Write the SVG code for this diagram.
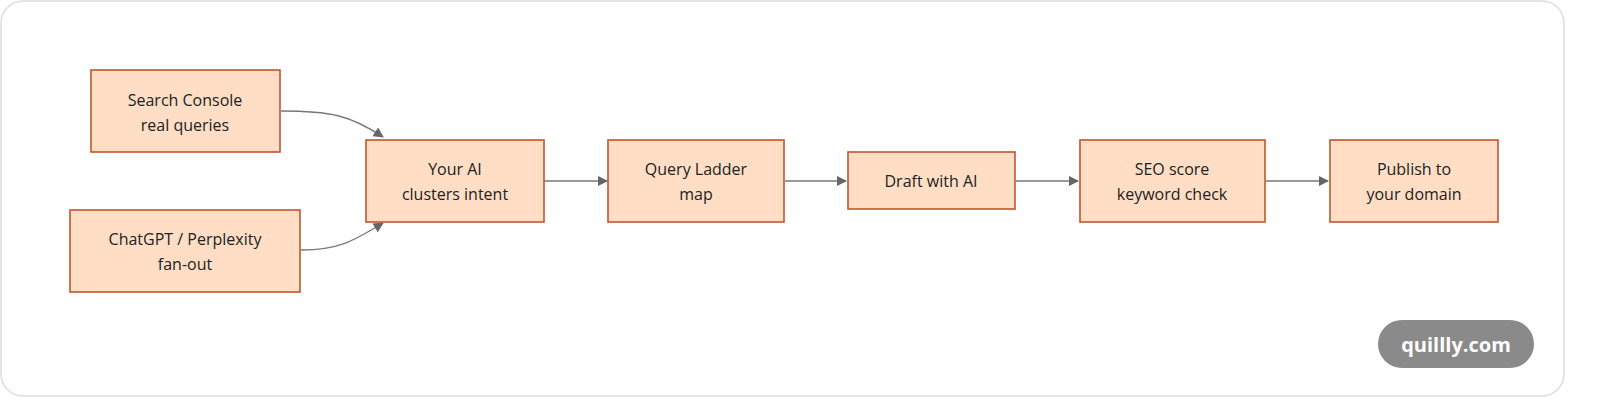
<svg xmlns="http://www.w3.org/2000/svg" width="1600" height="406" viewBox="0 0 1600 406">
<style>
.n rect{fill:#ffdec5;stroke:#c0552e;stroke-width:1.6}
.n text{font-family:"Open Sans","Noto Sans",sans-serif;font-size:16px;fill:#222;text-anchor:middle}
.e path{fill:none;stroke:#777;stroke-width:1.3}
</style>
<defs><marker id="a" viewBox="0 0 10 10" refX="9" refY="5" markerWidth="8" markerHeight="8" orient="auto"><path d="M0,0L10,5L0,10z" fill="#666"/></marker></defs>
<rect x="1" y="1" width="1563" height="395" rx="22" fill="#fff" stroke="#ddd" stroke-width="1.5"/>
<g class="e">
<path d="M281,111 C330,111 350,115 383,137" marker-end="url(#a)"/>
<path d="M301,250 C340,250 355,240 383,223" marker-end="url(#a)"/>
<path d="M544,181 H607" marker-end="url(#a)"/>
<path d="M785,181 H846" marker-end="url(#a)"/>
<path d="M1016,181 H1078" marker-end="url(#a)"/>
<path d="M1266,181 H1328" marker-end="url(#a)"/>
</g>
<g id="n1" class="n"><rect x="91" y="70" width="189" height="82"/><text x="185" y="106">Search Console</text><text x="185" y="131">real queries</text></g>
<g id="n2" class="n"><rect x="70" y="210" width="230" height="82"/><text x="185" y="245">ChatGPT / Perplexity</text><text x="185" y="270">fan-out</text></g>
<g id="n3" class="n"><rect x="366" y="140" width="178" height="82"/><text x="455" y="175">Your AI</text><text x="455" y="200">clusters intent</text></g>
<g id="n4" class="n"><rect x="608" y="140" width="176" height="82"/><text x="696" y="175">Query Ladder</text><text x="696" y="200">map</text></g>
<g id="n5" class="n"><rect x="848" y="152" width="167" height="57"/><text x="931" y="187">Draft with AI</text></g>
<g id="n6" class="n"><rect x="1080" y="140" width="185" height="82"/><text x="1172" y="175">SEO score</text><text x="1172" y="200">keyword check</text></g>
<g id="n7" class="n"><rect x="1330" y="140" width="168" height="82"/><text x="1414" y="175">Publish to</text><text x="1414" y="200">your domain</text></g>
<g id="badge"><rect x="1378" y="320" width="156" height="48" rx="24" fill="#8a8a8a"/><text x="1456" y="352" font-family="Open Sans,Noto Sans,sans-serif" font-size="20" font-weight="bold" fill="#fff" text-anchor="middle">quillly.com</text></g>
</svg>
